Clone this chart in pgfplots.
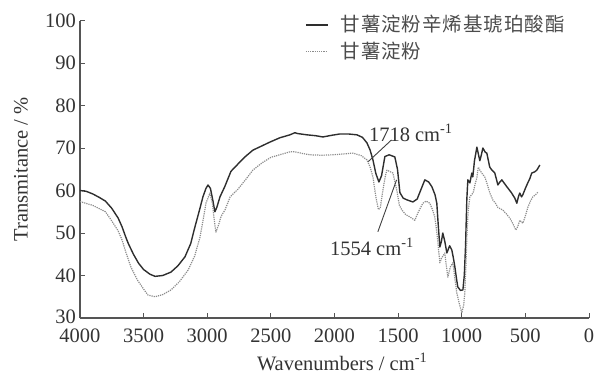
\documentclass[border=0pt]{standalone}
\usepackage{pgfplots}
\pgfplotsset{compat=1.18}
\usepackage{fontspec}
\setmainfont{Liberation Serif}
\newfontfamily\cjk[LetterSpace=5]{Noto Sans CJK SC}
\definecolor{solidc}{HTML}{2E2E2E}
\definecolor{dotc}{HTML}{8C8C8C}
\definecolor{axc}{HTML}{555555}
\newcommand{\fs}{\fontsize{20.5}{23}\selectfont}
\begin{document}
\fs
\begin{tikzpicture}
\begin{axis}[
  scale only axis,
  width=509pt, height=297.5pt,
  xmin=0, xmax=4000, ymin=30, ymax=100,
  x dir=reverse,
  axis lines*=left,
  axis line style={axc, line width=1.1pt},
  tick style={axc, line width=0.9pt},
  major tick length=5pt,
  tick align=inside,
  xtick={0,500,...,4000},
  ytick={30,40,...,100},
  yticklabels={\raisebox{3pt}{30},40,50,60,70,80,90,100},
  /pgf/number format/assume math mode=true,
  /pgf/number format/1000 sep={},
  ticklabel style={font=\fs, text=black!80},
  xticklabel style={yshift=-4pt},
  yticklabel style={xshift=3pt},
  xlabel={Wavenumbers / cm\textsuperscript{-1}},
  ylabel={Transmitance / \%},
  xlabel style={at={(axis description cs:0.515,-0.147)}, anchor=center, font=\fs, text=black!80},
  ylabel style={at={(axis description cs:-0.116,0.5)}, anchor=center, rotate=0, font=\fs, text=black!80},
  legend style={draw=none, fill=none, at={(axis description cs:0.442,1.025)}, anchor=north west,
    font=\cjk\fontsize{19.5}{22}\selectfont, text=black!70, row sep=3pt, inner sep=0pt},
  legend cell align=left,
  legend image code/.code={\draw[#1] (0pt,0pt) -- (22pt,0pt); \path (32pt,0pt);},
  clip=false,
]
\addplot[solidc, line width=1.4pt, line join=round] coordinates {
(4000,60) (3950,59.8) (3900,59.2) (3850,58.4) (3800,57.5) (3750,55.8) (3700,53.5) (3670,51.5) (3640,49) (3620,47.5) (3580,45) (3540,42.9) (3500,41.4) (3450,40.3) (3410,39.8) (3350,40) (3285,40.8) (3230,42.3) (3175,44.4) (3130,47.5) (3097,51.4) (3060,55.5) (3034,58.5) (3010,60.5) (2994,61.3) (2975,60.5) (2955,57.5) (2940,55) (2925,56) (2900,58.5) (2861,61) (2814,64.5) (2750,66.5) (2700,68) (2641,69.5) (2570,70.5) (2507,71.4) (2430,72.4) (2350,73.1) (2311,73.6) (2290,73.4) (2217,73.1) (2150,72.9) (2091,72.6) (2020,73) (1958,73.3) (1890,73.3) (1824,73.1) (1780,72.5) (1745,71.2) (1720,69.5) (1698,67.2) (1675,64) (1651,62) (1630,63.5) (1604,68) (1570,68.4) (1526,67.9) (1505,65) (1486,59.5) (1460,58.2) (1431,57.8) (1384,57.3) (1350,58) (1329,59.6) (1290,62.5) (1260,62) (1235,60.9) (1210,59) (1196,57) (1185,52) (1172,46.7) (1160,48) (1149,50) (1133,48) (1117,45.3) (1095,47) (1078,46) (1065,44) (1054,42) (1040,39) (1031,37.3) (1010,36.5) (991,36.6) (980,40) (970,47) (960,58) (952,62.5) (936,61.8) (921,64.1) (913,63.2) (900,67) (881,70.2) (858,67) (845,68.5) (834,70) (815,69) (803,68.8) (780,65.5) (763,64.8) (740,64.1) (716,61.3) (700,62) (685,62.5) (646,60.9) (610,59.5) (583,58.2) (567,57) (555,58.5) (544,59.4) (530,58.5) (520,59) (500,60.5) (481,61.8) (465,62.8) (450,64.1) (426,64.4) (410,64.8) (386,66)
};
\addlegendentry{甘薯淀粉辛烯基琥珀酸酯}
\addplot[dotc, line width=1.2pt, densely dotted, line join=round] coordinates {
(4000,57.4) (3900,56.5) (3800,55) (3756,53.1) (3700,50.5) (3670,48.4) (3640,45.5) (3600,42) (3550,39) (3500,36.8) (3466,35.4) (3410,35) (3350,35.5) (3285,36.6) (3220,38.5) (3150,41.3) (3100,44.5) (3057,49) (3030,53.5) (3010,57) (2979,59.4) (2960,57) (2945,53) (2932,50.2) (2910,52) (2890,54) (2861,55.4) (2820,58.5) (2759,60.3) (2700,62.5) (2641,64.8) (2570,66.5) (2500,67.8) (2420,68.5) (2350,69.1) (2311,69.1) (2250,68.7) (2193,68.4) (2100,68.3) (2013,68.4) (1930,68.6) (1855,68.8) (1790,68.2) (1745,67.2) (1720,65.5) (1698,63.2) (1675,58.5) (1655,55.5) (1640,56) (1620,60) (1600,63.5) (1588,64.8) (1541,64.1) (1510,60) (1490,56.5) (1470,55.4) (1440,54.3) (1408,53.8) (1369,53) (1340,55) (1306,57) (1280,57.5) (1251,57) (1230,55.5) (1212,53.8) (1195,50) (1172,43) (1160,44) (1133,45.3) (1120,42) (1109,39.6) (1090,42) (1070,43) (1055,39.5) (1039,35.9) (1020,33.5) (1000,31.2) (985,33) (976,35.9) (965,44) (960,49) (950,55) (936,58.5) (910,59.5) (895,61.5) (881,63) (870,65.5) (858,64.8) (840,64) (819,63.2) (800,61.5) (779,59.4) (756,57.8) (735,57) (716,56) (677,55.4) (650,54.5) (622,53.5) (600,52.3) (575,50.7) (560,51.5) (544,53) (520,52.3) (500,54) (481,56) (460,57.5) (442,58.5) (420,59) (402,59.6)
};
\addlegendentry{甘薯淀粉}
\draw[black!75, line width=0.9pt] (axis cs:1552,71.9) -- (axis cs:1735,66.8);
\draw[black!75, line width=0.9pt] (axis cs:1659,50.3) -- (axis cs:1512,62.5);
\node[text=black!80, font=\fs] at (axis cs:1400,73.5) {1718 cm\textsuperscript{-1}};
\node[text=black!80, font=\fs] at (axis cs:1706,46.7) {1554 cm\textsuperscript{-1}};
\end{axis}
\pgfresetboundingbox
\useasboundingbox (-80pt,-56pt) rectangle (516pt,318pt);
\end{tikzpicture}
\end{document}
